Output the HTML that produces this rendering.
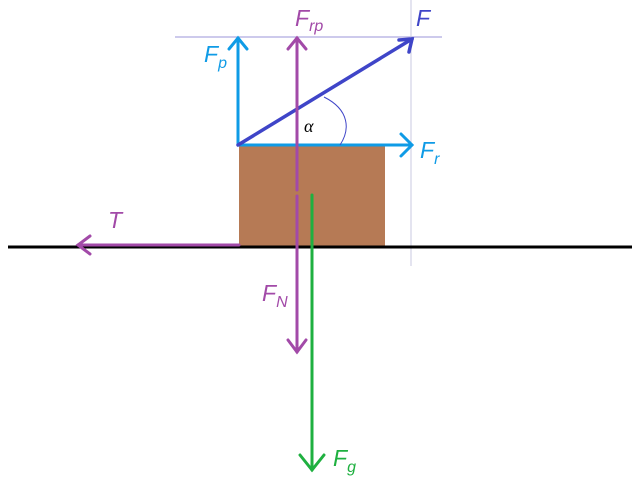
<!DOCTYPE html>
<html><head><style>body{margin:0;background:#fff}svg{display:block}</style></head><body>
<svg width="640" height="485" viewBox="0 0 640 485" xmlns="http://www.w3.org/2000/svg" font-family="Liberation Sans, sans-serif" font-style="italic">
<line x1="175" y1="37" x2="442" y2="37" stroke="#9b95d8" stroke-width="1"/>
<line x1="411" y1="0" x2="411" y2="266" stroke="#c8c8e0" stroke-width="1"/>
<rect x="239" y="145" width="146" height="101" fill="#b67a55"/>
<line x1="8" y1="247" x2="632" y2="247" stroke="#000" stroke-width="3"/>
<g stroke="#0f9be6" stroke-width="3" fill="none" stroke-linecap="round">
<line x1="238" y1="145" x2="238" y2="38"/><polyline points="229,49 238,38 247,49"/>
<line x1="238" y1="145" x2="411" y2="145"/><polyline points="401,134 412,145 401,156"/>
</g>
<g stroke="#3f45c8" stroke-width="3.5" fill="none" stroke-linecap="round">
<line x1="238" y1="145" x2="412" y2="39"/><polyline points="399,40 412,39 409,52"/>
</g>
<path d="M324,97 C350,110 350,130 340,145" stroke="#3f45c8" stroke-width="1" fill="none"/>
<text x="304" y="132" font-size="18" fill="#000" font-family="Liberation Serif, serif">α</text>
<g stroke="#a24aa8" stroke-width="3" fill="none" stroke-linecap="round">
<line x1="297" y1="190" x2="297" y2="38"/><polyline points="288,49 297,38 306,49"/>
<line x1="297" y1="196" x2="297" y2="352"/><polyline points="288,340 297,352 306,340"/>
<line x1="239" y1="245" x2="78" y2="245"/><polyline points="90,236 78,245 90,254"/>
</g>
<g stroke="#1fb040" stroke-width="3" fill="none" stroke-linecap="round">
<line x1="312" y1="195" x2="312" y2="470"/><polyline points="300,455 312,470 324,455"/>
</g>
<g font-size="23">
<text x="204" y="62" fill="#0f9be6">F<tspan font-size="16" dy="6">p</tspan></text>
<text x="420" y="158" fill="#0f9be6">F<tspan font-size="16" dy="6">r</tspan></text>
<text x="295" y="26" fill="#a24aa8">F<tspan font-size="16" dy="5">rp</tspan></text>
<text x="416" y="26" fill="#3f45c8">F</text>
<text x="108" y="228" fill="#a24aa8">T</text>
<text x="262" y="301" fill="#a24aa8">F<tspan font-size="16" dy="6">N</tspan></text>
<text x="333" y="466" fill="#1fb040">F<tspan font-size="16" dy="6">g</tspan></text>
</g>
</svg>
</body></html>
